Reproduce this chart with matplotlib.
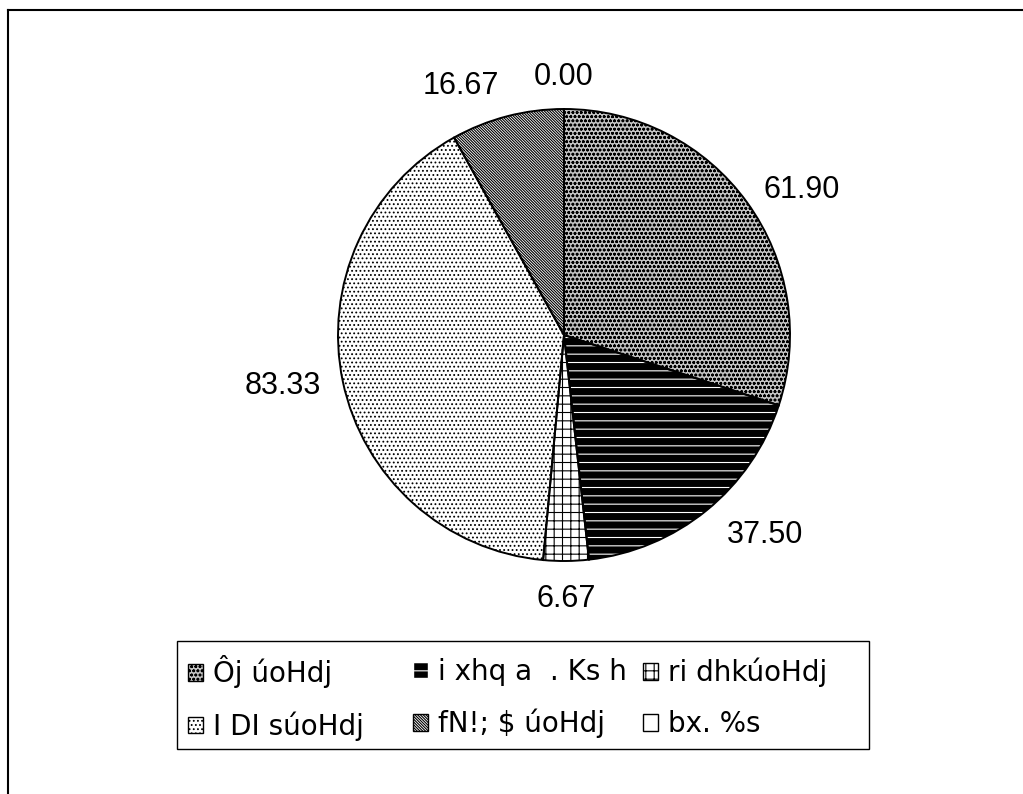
import matplotlib
matplotlib.use('Agg')
import matplotlib.pyplot as plt
from matplotlib.lines import Line2D
from matplotlib.patches import Patch, Rectangle
import numpy as np

# slice values, in drawing order (clockwise from 12 o'clock)
values = [61.90, 37.50, 6.67, 83.33, 16.67, 0.00]
value_labels = ['61.90', '37.50', '6.67', '83.33', '16.67', '0.00']
# legend names as they appear in the picture (legacy-font text)
names = ['Ôj úoHdj', 'i xhq a  . Ks h', 'ri dhkúoHdj',
         'I DI súoHdj', 'fN!; $ úoHdj', 'bx. %s']

# fill styles per slice
faces = ['#c4c4c4', 'black', 'white', 'white', 'white', 'white']
hatch_cols = ['black', 'white', 'black', 'black', 'black', 'black']
hatches = ['oooo', '--', '++', '....', '\\' * 12, '']
# label placement (distance in radii, alignment)
label_dist = [1.09, 1.14, 1.17, 1.10, 1.14, 1.14]
label_ha = ['left', 'left', 'center', 'right', 'right', 'center']

plt.rcParams['hatch.linewidth'] = 0.8

W, H = 1023, 794
fig = plt.figure(figsize=(W / 100, H / 100), dpi=100)
ax = fig.add_axes([0, 0, 1, 1])
ax.axis('off')

# pixel layout: pie center (564, 335), radius 226 px
cx, cy, R = 564.0, 335.0, 226.0

# first pass: hatched fills (hatch colour follows edge colour)
wedges, _ = ax.pie(values, startangle=90, counterclock=False, radius=1.0,
                   normalize=True)
for w, fc, hc, h in zip(wedges, faces, hatch_cols, hatches):
    w.set_facecolor(fc)
    w.set_edgecolor(hc)
    w.set_hatch(h)
    w.set_linewidth(0)

# second pass: black outlines
ax.pie(values, startangle=90, counterclock=False, radius=1.0, normalize=True,
       wedgeprops=dict(fill=False, edgecolor='black', linewidth=1.4))
ax.set_xlim(-cx / R, (W - cx) / R)
ax.set_ylim((cy - H) / R, cy / R)
ax.set_aspect('auto')

for w, lab, d, ha in zip(wedges, value_labels, label_dist, label_ha):
    ang = np.deg2rad((w.theta1 + w.theta2) / 2.0)
    ax.text(d * np.cos(ang), d * np.sin(ang), lab, ha=ha, va='center',
            fontsize=22, family=['Liberation Sans', 'DejaVu Sans'])

# legend: one column per legend so columns sit where they do in the picture
handles = []
for fc, hc, h in zip(faces, hatch_cols, hatches):
    handles.append(Patch(facecolor=fc, edgecolor=hc if fc == 'black' else 'black',
                         hatch=h, linewidth=1.0))
col_x = [188, 413, 643]
row_mid = 698
for c, x in enumerate(col_x):
    idx = [c, c + 3]
    fig.legend([handles[i] for i in idx], [names[i] for i in idx],
               loc='center left', bbox_to_anchor=(x / W, 1 - row_mid / H),
               frameon=False, handlelength=0.54, handleheight=0.54,
               handletextpad=0.35, labelspacing=0.82, borderaxespad=0,
               borderpad=0,
               prop={'family': ['DejaVu Sans'], 'size': 20})
fig.add_artist(Rectangle((177 / W, 1 - 749 / H), (869 - 177) / W, (749 - 641) / H,
                         fill=False, edgecolor='black', linewidth=1.0,
                         transform=fig.transFigure))

# chart area border: top and left lines only
fig.add_artist(Line2D([8 / W, 1.0], [1 - 10 / H, 1 - 10 / H],
                      color='black', linewidth=1.5, transform=fig.transFigure))
fig.add_artist(Line2D([8 / W, 8 / W], [0.0, 1 - 10 / H],
                      color='black', linewidth=1.5, transform=fig.transFigure))

fig.savefig('out.png', dpi=100, facecolor='white')
